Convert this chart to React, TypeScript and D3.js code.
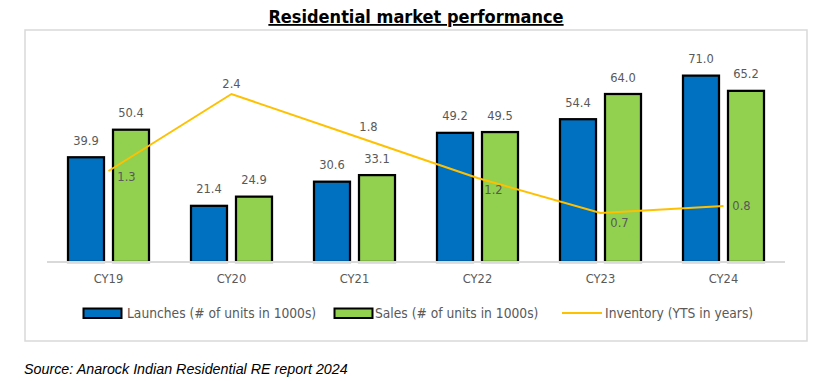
import React from "react";
import * as d3 from "d3";

const categories = ["CY19", "CY20", "CY21", "CY22", "CY23", "CY24"];
const launches = [39.9, 21.4, 30.6, 49.2, 54.4, 71.0];
const sales = [50.4, 24.9, 33.1, 49.5, 64.0, 65.2];
const inventory = [1.3, 2.4, 1.8, 1.2, 0.7, 0.8];
// label nudges for inventory data labels (dx, dy from point)
const inventoryLabelNudge: [number, number][] = [
  [18, 10],
  [0, -6],
  [14, -5],
  [16, 16],
  [19, 14],
  [18, 4],
];
const legendLabels = [
  "Launches (# of units in 1000s)",
  "Sales (# of units in 1000s)",
  "Inventory (YTS in years)",
];

const W = 819;
const H = 381;
const BLUE = "#0070C0";
const GREEN = "#92D050";
const GOLD = "#FFC000";
const TXT = "#595959";
const GRID = "#D9D9D9";
const valueFont = "'DejaVu Sans', sans-serif";
const narrowFont = "'Liberation Sans Narrow', 'DejaVu Sans Condensed', 'Roboto Condensed', sans-serif";

export default function App() {
  const x = d3.scaleBand<string>().domain(categories).range([47, 785]).padding(0);
  const y = d3.scaleLinear().domain([0, 80]).range([262, 52]);
  const y2 = d3.scaleLinear().domain([0, 3]).range([262, 52]);
  const inner = d3
    .scaleBand<string>()
    .domain(["launches", "sales"])
    .range([x.bandwidth() / 2 - 40.5, x.bandwidth() / 2 + 40.5])
    .paddingInner(0.2)
    .paddingOuter(0);
  const cx = (c: string) => (x(c) as number) + x.bandwidth() / 2;
  const line = d3
    .line<number>()
    .x((_, i) => cx(categories[i]))
    .y((d) => y2(d));

  const series = [
    { key: "launches", values: launches, color: BLUE },
    { key: "sales", values: sales, color: GREEN },
  ];

  return (
    <svg width={W} height={H} style={{ position: "absolute", left: 0, top: 0, background: "#fff" }}>
      <rect x={0} y={0} width={W} height={H} fill="#fff" />
      <text
        x={416}
        y={23}
        textAnchor="middle"
        fontFamily={narrowFont}
        fontWeight="bold"
        fontSize={18}
        fill="#000"
        textDecoration="underline"
      >
        Residential market performance
      </text>
      <rect x={25} y={30} width={782} height={311} fill="none" stroke={GRID} strokeWidth={1.5} />
      {series.map((s) =>
        categories.map((c, i) => {
          const bx = (x(c) as number) + (inner(s.key) as number);
          const by = y(s.values[i]);
          return (
            <g key={s.key + c}>
              <rect
                x={bx}
                y={by}
                width={inner.bandwidth()}
                height={y(0) - by}
                fill={s.color}
                stroke="#000"
                strokeWidth={2.25}
              />
              <text
                x={bx + inner.bandwidth() / 2}
                y={by - 12.5}
                textAnchor="middle"
                fontFamily={valueFont}
                fontSize={11.5}
                fill={TXT}
              >
                {s.values[i].toFixed(1)}
              </text>
            </g>
          );
        })
      )}
      <line x1={47} x2={785} y1={262} y2={262} stroke={GRID} strokeWidth={2} />
      {categories.map((c) => (
        <text key={c} x={cx(c)} y={283} textAnchor="middle" fontFamily={valueFont} fontSize={11.5} fill={TXT}>
          {c}
        </text>
      ))}
      <path d={line(inventory) || ""} fill="none" stroke={GOLD} strokeWidth={2} />
      {inventory.map((v, i) => (
        <text
          key={"inv" + i}
          x={cx(categories[i]) + inventoryLabelNudge[i][0]}
          y={y2(v) + inventoryLabelNudge[i][1]}
          textAnchor="middle"
          fontFamily={valueFont}
          fontSize={11.5}
          fill={TXT}
        >
          {v.toFixed(1)}
        </text>
      ))}
      {/* legend */}
      <rect x={83.5} y={308.5} width={38} height={9.5} fill={BLUE} stroke="#000" strokeWidth={2} />
      <text x={127} y={318} fontFamily={narrowFont} fontSize={13.7} fill={TXT}>
        {legendLabels[0]}
      </text>
      <rect x={334.5} y={308.5} width={38} height={9.5} fill={GREEN} stroke="#000" strokeWidth={2} />
      <text x={375} y={318} fontFamily={narrowFont} fontSize={13.7} fill={TXT}>
        {legendLabels[1]}
      </text>
      <line x1={562} x2={602} y1={313} y2={313} stroke={GOLD} strokeWidth={2} />
      <text x={605} y={318} fontFamily={narrowFont} fontSize={13.7} fill={TXT}>
        {legendLabels[2]}
      </text>
      <text
        x={24}
        y={374}
        fontFamily="'Liberation Sans', Arial, sans-serif"
        fontStyle="italic"
        fontSize={14.3}
        fill="#000"
      >
        Source: Anarock Indian Residential RE report 2024
      </text>
    </svg>
  );
}
